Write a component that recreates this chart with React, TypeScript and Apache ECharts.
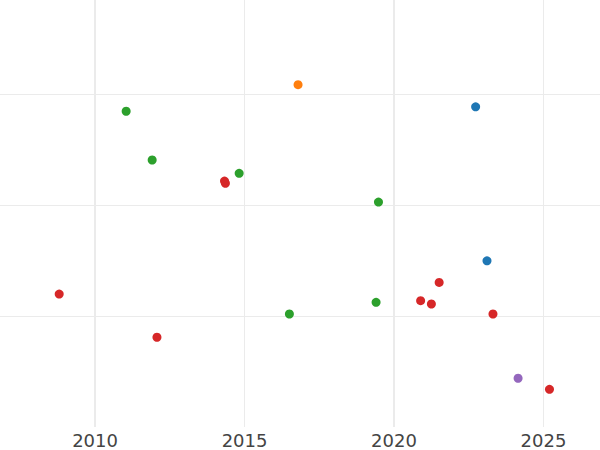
import React, { useEffect, useRef } from "react";
import * as echarts from "echarts";

const xTickLabels = [2010, 2015, 2020, 2025];
const majorYears = [2010, 2020];
const minorYears = [2015, 2025];

const blueYears = [2022.73, 2023.11];
const blueValues = [2.89, 1.5];
const orangeYears = [2016.79];
const orangeValues = [3.09];
const greenYears = [2011.04, 2011.91, 2014.82, 2016.5, 2019.48, 2019.4];
const greenValues = [2.85, 2.41, 2.29, 1.02, 2.03, 1.125];
const redYears = [2008.8, 2012.07, 2014.33, 2014.36, 2021.51, 2020.89, 2021.25, 2023.31, 2025.2];
const redValues = [1.2, 0.81, 2.22, 2.2, 1.305, 1.14, 1.11, 1.02, 0.34];
const purpleYears = [2024.15];
const purpleValues = [0.44];

const zip = (xs: number[], ys: number[]) => xs.map((x, i) => [x, ys[i]]);

export default function App() {
  const ref = useRef<HTMLDivElement>(null);
  useEffect(() => {
    if (!ref.current) return;
    const chart = echarts.init(ref.current, null, { renderer: "svg" });
    const mk = (name: string, color: string, xs: number[], ys: number[], extra: any = {}) => ({
      name,
      type: "scatter",
      symbolSize: 9,
      itemStyle: { color, opacity: 1 },
      data: zip(xs, ys),
      z: 3,
      ...extra,
    });
    const vline = (years: number[], width: number) =>
      years.map((y) => ({ xAxis: y, lineStyle: { color: "#ebebeb", width, type: "solid" } }));
    chart.setOption({
      animation: false,
      backgroundColor: "#ffffff",
      grid: { left: 0, right: 0, top: 0, bottom: 23, containLabel: false },
      xAxis: {
        type: "value",
        min: 2006.82,
        max: 2026.89,
        axisLine: { show: false },
        axisTick: { show: false, customValues: xTickLabels },
        axisLabel: {
          color: "#444444",
          fontSize: 18,
          margin: 4,
          fontFamily: "DejaVu Sans",
          customValues: xTickLabels,
          formatter: (v: number) => String(v),
        },
        splitLine: { show: false },
      },
      yAxis: {
        type: "value",
        min: 0,
        max: 3.854,
        interval: 1,
        axisLine: { show: false },
        axisTick: { show: false },
        axisLabel: { show: false },
        splitLine: {
          show: true,
          showMinLine: false,
          showMaxLine: false,
          lineStyle: { color: "#ebebeb", width: 1 },
        },
      },
      series: [
        mk("Blue", "#1f77b4", blueYears, blueValues, {
          markLine: {
            silent: true,
            symbol: "none",
            label: { show: false },
            animation: false,
            data: [...vline(majorYears, 2), ...vline(minorYears, 1)],
            z: 0,
          },
        }),
        mk("Orange", "#ff7f0e", orangeYears, orangeValues),
        mk("Green", "#2ca02c", greenYears, greenValues),
        mk("Red", "#d62728", redYears, redValues),
        mk("Purple", "#9467bd", purpleYears, purpleValues),
      ],
    });
    return () => chart.dispose();
  }, []);
  return (
    <div
      ref={ref}
      style={{ position: "fixed", left: 0, top: 0, width: 600, height: 450 }}
    />
  );
}
